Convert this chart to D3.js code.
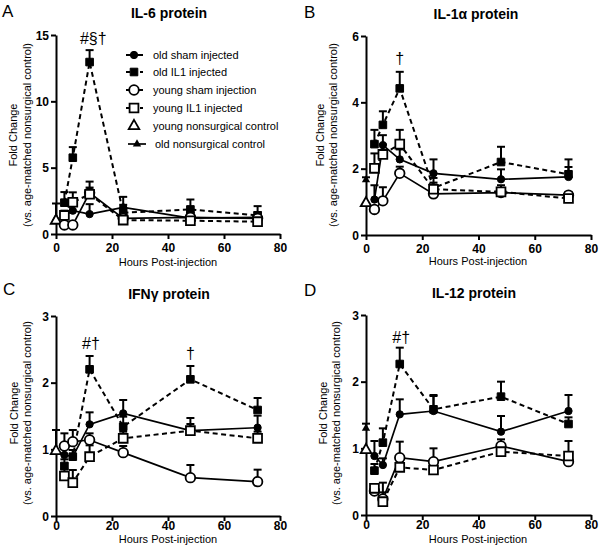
<!DOCTYPE html>
<html><head><meta charset="utf-8">
<script src="https://cdn.jsdelivr.net/npm/d3@7"></script>
<style>body{margin:0;background:#fff}svg{display:block}text{font-family:"Liberation Sans",Arial,sans-serif;fill:#000}</style>
</head><body><svg id="c" width="600" height="552"></svg>
<script>
// ---------- DATA ----------
const hours = [3, 6, 12, 24, 48, 72];
const seriesNames = ["old sham injected", "old IL1 injected", "young sham injection", "young IL1 injected", "young nonsurgical control", "old nonsurgical control"];
const xTicks = [0, 20, 40, 60, 80];

// IL-6
const il6OldSham = [1.36, 1.76, 1.5, 2.0, 1.2, 1.25];
const il6OldShamErr = [0.4, 0.5, 0.75, 0.8, 0.4, 0.4];
const il6OldIL1 = [2.36, 5.75, 12.96, 1.6, 1.85, 1.4];
const il6OldIL1Err = [0.8, 0.8, 0.9, 0.6, 0.75, 0.7];
const il6YoungSham = [0.68, 0.68, 3.1, 1.18, 1.26, 1.18];
const il6YoungShamErr = [0.2, 0.2, 0.85, 0.3, 0.3, 0.3];
const il6YoungIL1 = [1.4, 2.39, 3.0, 1.05, 1.0, 0.93];
const il6YoungIL1Err = [0.3, 0.75, 0.5, 0.3, 0.3, 0.3];
const il6Controls = [1.0, 1.2];      // young, old
const il6ControlErr = [0, 1.1];
const il6Ticks = [0, 5, 10, 15];

// IL-1alpha
const il1aOldSham = [1.07, 2.71, 2.28, 1.86, 1.68, 1.75];
const il1aOldShamErr = [0.43, 0.3, 0.3, 0.42, 0.3, 0.3];
const il1aOldIL1 = [2.74, 3.32, 4.42, 1.42, 2.2, 1.83];
const il1aOldIL1Err = [0.43, 0.41, 0.5, 0.3, 0.46, 0.45];
const il1aYoungSham = [0.77, 1.03, 1.86, 1.24, 1.28, 1.2];
const il1aYoungShamErr = [0.1, 0.41, 0.2, 0.1, 0.1, 0.1];
const il1aYoungIL1 = [2.01, 2.43, 2.74, 1.38, 1.3, 1.1];
const il1aYoungIL1Err = [0.45, 0.3, 0.43, 0.2, 0.2, 0.15];
const il1aControls = [0.96, 1.66];
const il1aControlErr = [0, 0.08];
const il1aTicks = [0, 2, 4, 6];

// IFN-gamma
const ifnOldSham = [0.915, 0.89, 1.375, 1.54, 1.28, 1.325];
const ifnOldShamErr = [0.1, 0.1, 0.18, 0.2, 0.19, 0.18];
const ifnOldIL1 = [0.75, 0.89, 2.2, 1.34, 2.05, 1.59];
const ifnOldIL1Err = [0.1, 0.1, 0.2, 0.15, 0.2, 0.18];
const ifnYoungSham = [1.05, 1.115, 1.14, 0.95, 0.575, 0.515];
const ifnYoungShamErr = [0.19, 0.175, 0.1, 0.1, 0.19, 0.18];
const ifnYoungIL1 = [0.6, 0.5, 0.89, 1.165, 1.28, 1.165];
const ifnYoungIL1Err = [0.1, 0.19, 0.17, 0.1, 0.1, 0.1];
const ifnControls = [0.975, 1.0];
const ifnControlErr = [0, 0.29];
const ifnTicks = [0, 1, 2, 3];

// IL-12
const il12OldSham = [0.885, 0.75, 1.51, 1.56, 1.25, 1.56];
const il12OldShamErr = [0.225, 0.1, 0.225, 0.24, 0.235, 0.24];
const il12OldIL1 = [0.665, 1.085, 2.265, 1.585, 1.775, 1.365];
const il12OldIL1Err = [0.1, 0.215, 0.245, 0.2, 0.225, 0.1];
const il12YoungSham = [0.36, 0.24, 0.86, 0.8, 1.035, 0.8];
const il12YoungShamErr = [0.05, 0.1, 0.24, 0.2, 0.1, 0.1];
const il12YoungIL1 = [0.4, 0.2, 0.715, 0.675, 0.95, 0.885];
const il12YoungIL1Err = [0.05, 0.285, 0.1, 0.1, 0.1, 0.225];
const il12Controls = [0.975, 1.3];
const il12ControlErr = [0, 0.07];
const il12Ticks = [0, 1, 2, 3];

// ---------- PANELS ----------
const panels = [
  {letter:"A", title:"IL-6 protein", yMax:15, ticks:il6Ticks,
   series:[[il6OldSham,il6OldShamErr],[il6OldIL1,il6OldIL1Err],[il6YoungSham,il6YoungShamErr],[il6YoungIL1,il6YoungIL1Err]],
   ctrl:il6Controls, ctrlErr:il6ControlErr, notes:[{t:"#§†", h:13.3, v:14.3}], legend:true,
   L:56, R:280, T:35, B:234, pad:3, ylab1:17, ylab2:31, yc:135, tx:169, ty:18, lx:2, ly:17, xl:168, xly:266},
  {letter:"B", title:"IL-1α protein", yMax:6, ticks:il1aTicks,
   series:[[il1aOldSham,il1aOldShamErr],[il1aOldIL1,il1aOldIL1Err],[il1aYoungSham,il1aYoungShamErr],[il1aYoungIL1,il1aYoungIL1Err]],
   ctrl:il1aControls, ctrlErr:il1aControlErr, notes:[{t:"†", h:12, v:5.15}],
   L:366, R:591, T:36, B:235, pad:3, ylab1:324, ylab2:337, yc:135, tx:476, ty:19, lx:304, ly:18, xl:478, xly:265},
  {letter:"C", title:"IFNγ protein", yMax:3, ticks:ifnTicks,
   series:[[ifnOldSham,ifnOldShamErr],[ifnOldIL1,ifnOldIL1Err],[ifnYoungSham,ifnYoungShamErr],[ifnYoungIL1,ifnYoungIL1Err]],
   ctrl:ifnControls, ctrlErr:ifnControlErr, notes:[{t:"#†", h:12.5, v:2.5},{t:"†", h:48, v:2.35}],
   L:56, R:280, T:316, B:516, pad:-1, ylab1:18, ylab2:31, yc:413, tx:169, ty:299, lx:3, ly:295, xl:168, xly:543},
  {letter:"D", title:"IL-12 protein", yMax:3, ticks:il12Ticks,
   series:[[il12OldSham,il12OldShamErr],[il12OldIL1,il12OldIL1Err],[il12YoungSham,il12YoungShamErr],[il12YoungIL1,il12YoungIL1Err]],
   ctrl:il12Controls, ctrlErr:il12ControlErr, notes:[{t:"#†", h:12.5, v:2.58}],
   L:366, R:591, T:315, B:515, pad:-1, ylab1:327, ylab2:340, yc:413, tx:474, ty:298, lx:304, ly:296, xl:478, xly:543}
];

const styles = [
  {sym:d3.symbolCircle, size:42, fill:"#000", dash:null},
  {sym:d3.symbolSquare, size:58, fill:"#000", dash:"5,3.5"},
  {sym:d3.symbolCircle, size:72, fill:"#fff", dash:null},
  {sym:d3.symbolSquare, size:78, fill:"#fff", dash:"5,3.5"}
];

const svg = d3.select("#c");
const sym = (s, size) => d3.symbol().type(s).size(size)();

function drawMarker(g, st, x, y) {
  g.append("path").attr("d", sym(st.sym, st.size))
    .attr("transform", `translate(${x},${y})`)
    .attr("fill", st.fill).attr("stroke", "#000")
    .attr("stroke-width", st.fill === "#fff" ? 1.8 : 1);
}
function drawErr(g, x, y0, y1) {
  g.append("line").attr("x1", x).attr("x2", x).attr("y1", y0).attr("y2", y1)
    .attr("stroke", "#000").attr("stroke-width", 2);
  g.append("line").attr("x1", x - 4).attr("x2", x + 4).attr("y1", y1).attr("y2", y1)
    .attr("stroke", "#000").attr("stroke-width", 2);
}

panels.forEach(p => {
  const g = svg.append("g");
  const x = d3.scaleLinear().domain([0, 80]).range([p.L, p.R]);
  const y = d3.scaleLinear().domain([0, p.yMax]).range([p.B, p.T]);

  const xa = g.append("g").attr("transform", `translate(0,${p.B})`)
    .call(d3.axisBottom(x).tickValues(xTicks).tickFormat(d3.format("d")).tickSize(5).tickPadding(p.pad).tickSizeOuter(0));
  const ya = g.append("g").attr("transform", `translate(${p.L},0)`)
    .call(d3.axisLeft(y).tickValues(p.ticks).tickFormat(d3.format("d")).tickSize(5).tickPadding(2).tickSizeOuter(0));
  [xa, ya].forEach(a => {
    a.select(".domain").attr("stroke", "#000").attr("stroke-width", 2);
    a.selectAll(".tick line").attr("stroke", "#000").attr("stroke-width", 2);
    a.selectAll(".tick text").attr("font-family", "Liberation Sans, Arial, sans-serif")
      .attr("font-size", 12).attr("font-weight", "bold").attr("fill", "#000");
  });
  xa.selectAll(".tick text").attr("dy", "0.85em");
  ya.selectAll(".tick text").attr("dy", "0.36em");

  g.append("text").attr("x", p.lx).attr("y", p.ly).attr("font-size", 17).text(p.letter);
  g.append("text").attr("x", p.tx).attr("y", p.ty).attr("text-anchor", "middle")
    .attr("font-size", 14).attr("font-weight", "bold").text(p.title);
  g.append("text").attr("x", p.xl).attr("y", p.xly).attr("text-anchor", "middle")
    .attr("font-size", 11).text("Hours Post-injection");
  g.append("text").attr("transform", `translate(${p.ylab1},${p.yc}) rotate(-90)`)
    .attr("text-anchor", "middle").attr("font-size", 11).text("Fold Change");
  g.append("text").attr("transform", `translate(${p.ylab2},${p.yc}) rotate(-90)`)
    .attr("text-anchor", "middle").attr("font-size", 11).text("(vs. age-matched nonsurgical control)");

  const line = d3.line().x(d => x(d[0])).y(d => y(d[1]));
  p.series.forEach((s, i) => {
    const st = styles[i];
    g.append("path").attr("d", line(hours.map((h, k) => [h, s[0][k]])))
      .attr("fill", "none").attr("stroke", "#000").attr("stroke-width", st.dash ? 2 : 1.7)
      .attr("stroke-dasharray", st.dash);
  });
  p.series.forEach(s => {
    hours.forEach((h, k) => { if (s[1][k] > 0) drawErr(g, x(h), y(s[0][k]), y(s[0][k] + s[1][k])); });
  });
  drawErr(g, x(0), y(p.ctrl[1]), y(p.ctrl[1] + p.ctrlErr[1]));
  g.append("path").attr("d", sym(d3.symbolTriangle, 30))
    .attr("transform", `translate(${x(0)},${y(p.ctrl[1])})`).attr("fill", "#000");
  g.append("path").attr("d", sym(d3.symbolTriangle, 48))
    .attr("transform", `translate(${x(0)},${y(p.ctrl[0])})`)
    .attr("fill", "#fff").attr("stroke", "#000").attr("stroke-width", 1.8);
  p.series.forEach((s, i) => {
    hours.forEach((h, k) => drawMarker(g, styles[i], x(h), y(s[0][k])));
  });
  p.notes.forEach(n => {
    g.append("text").attr("x", x(n.h)).attr("y", y(n.v)).attr("text-anchor", "middle")
      .attr("font-size", 16).text(n.t);
  });

  if (p.legend) {
    const ly = [55, 72, 90, 108, 126, 144];
    seriesNames.forEach((name, i) => {
      const cy = ly[i];
      if (i < 4) {
        const st = styles[i];
        g.append("line").attr("x1", 126).attr("x2", 143).attr("y1", cy).attr("y2", cy)
          .attr("stroke", "#000").attr("stroke-width", 2).attr("stroke-dasharray", st.dash ? "4,3" : null);
        drawMarker(g, st, 134, cy);
        g.append("text").attr("x", 153).attr("y", cy + 4).attr("font-size", 11).text(name);
      } else if (i === 4) {
        g.append("path").attr("d", sym(d3.symbolTriangle, 48)).attr("transform", `translate(134,${cy})`)
          .attr("fill", "#fff").attr("stroke", "#000").attr("stroke-width", 1.8);
        g.append("text").attr("x", 153).attr("y", cy + 4).attr("font-size", 11).text(name);
      } else {
        g.append("line").attr("x1", 128).attr("x2", 146).attr("y1", cy).attr("y2", cy)
          .attr("stroke", "#000").attr("stroke-width", 1.7);
        g.append("path").attr("d", sym(d3.symbolTriangle, 30)).attr("transform", `translate(137,${cy})`).attr("fill", "#000");
        g.append("text").attr("x", 155).attr("y", cy + 4).attr("font-size", 11).text(name);
      }
    });
  }
});
</script></body></html>
